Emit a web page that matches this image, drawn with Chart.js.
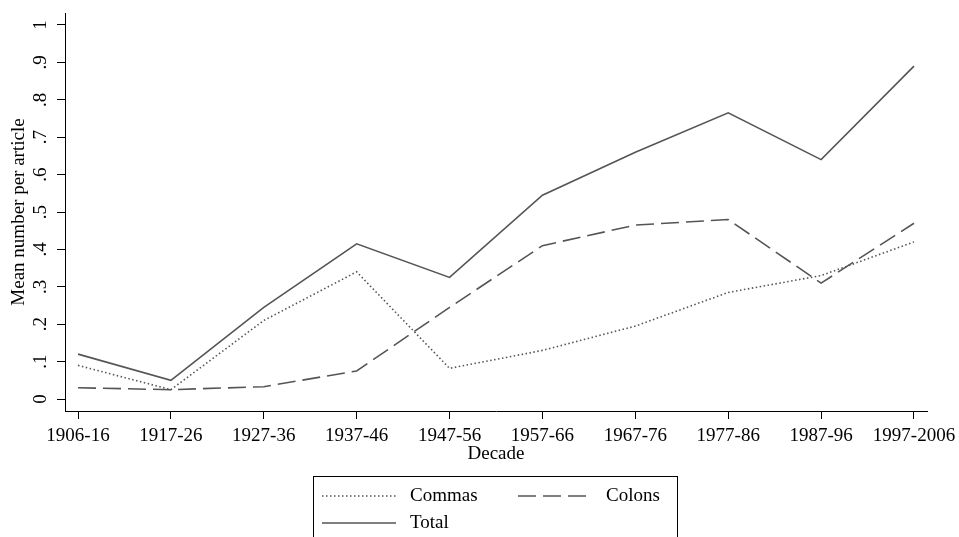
<!DOCTYPE html>
<html>
<head>
<meta charset="utf-8">
<script src="https://cdn.jsdelivr.net/npm/chart.js@4.4.1/dist/chart.umd.min.js"></script>
<style>
  html, body { margin: 0; padding: 0; background: #fff; }
  #wrap { width: 959px; height: 537px; }
</style>
</head>
<body>
<div id="wrap"><canvas id="chart" width="959" height="537"></canvas></div>
<script>
// data
const decades = ['1906-16', '1917-26', '1927-36', '1937-46', '1947-56', '1957-66', '1967-76', '1977-86', '1987-96', '1997-2006'];
const commas = [0.09, 0.025, 0.21, 0.34, 0.082, 0.13, 0.195, 0.285, 0.33, 0.42];
const colons = [0.03, 0.025, 0.033, 0.075, 0.245, 0.41, 0.465, 0.48, 0.31, 0.47];
const total = [0.12, 0.05, 0.245, 0.415, 0.325, 0.545, 0.66, 0.765, 0.64, 0.89];
const yTicks = [0, 0.1, 0.2, 0.3, 0.4, 0.5, 0.6, 0.7, 0.8, 0.9, 1];
const yTickLabels = ['0', '.1', '.2', '.3', '.4', '.5', '.6', '.7', '.8', '.9', '1'];

const FONT = 'Liberation Serif';
const LINE = '#555555';

function toPoints(arr) {
  return arr.map((v, i) => ({ x: i, y: v }));
}

// Stata-style legend box under the plot
const legendBox = {
  id: 'legendBox',
  afterDraw(chart) {
    const ctx = chart.ctx;
    const ds = chart.data.datasets;
    const slots = [
      { d: ds[0], x: 322, y: 496 },
      { d: ds[1], x: 518, y: 496 },
      { d: ds[2], x: 322, y: 523 }
    ];
    ctx.save();
    ctx.strokeStyle = '#000';
    ctx.lineWidth = 1;
    ctx.strokeRect(313.5, 476.5, 364, 100);
    slots.forEach(s => {
      ctx.beginPath();
      ctx.strokeStyle = s.d.borderColor;
      ctx.lineWidth = s.d.borderWidth;
      ctx.setLineDash(s.d.borderDash || []);
      ctx.moveTo(s.x, s.y);
      ctx.lineTo(s.x + 74, s.y);
      ctx.stroke();
      ctx.setLineDash([]);
      ctx.fillStyle = '#000';
      ctx.font = '19px "' + FONT + '"';
      ctx.textBaseline = 'middle';
      ctx.textAlign = 'left';
      ctx.fillText(s.d.label, s.x + 88, s.y);
    });
    ctx.restore();
  }
};

const ctx = document.getElementById('chart').getContext('2d');
new Chart(ctx, {
  type: 'line',
  data: {
    datasets: [
      { label: 'Commas', data: toPoints(commas), borderColor: LINE, borderWidth: 1.6, borderDash: [1.5, 2.5] },
      { label: 'Colons', data: toPoints(colons), borderColor: LINE, borderWidth: 1.6, borderDash: [18, 7] },
      { label: 'Total', data: toPoints(total), borderColor: LINE, borderWidth: 1.6 }
    ]
  },
  options: {
    responsive: false,
    animation: false,
    events: [],
    elements: { point: { radius: 0 }, line: { tension: 0 } },
    layout: { padding: { left: 0, right: 32, top: 13, bottom: 70 } },
    plugins: { legend: { display: false }, tooltip: { enabled: false } },
    scales: {
      x: {
        type: 'linear',
        min: -0.14,
        max: 9.14,
        afterFit(scale) {
          scale.height = 56;
          scale.paddingLeft = 0;
          scale.paddingRight = 0;
        },
        afterBuildTicks(scale) { scale.ticks = decades.map((d, i) => ({ value: i })); },
        grid: { drawOnChartArea: false, drawTicks: true, tickLength: 8, color: '#000' },
        border: { color: '#000', width: 1 },
        ticks: {
          color: '#000',
          font: { family: FONT, size: 19 },
          padding: 6,
          maxRotation: 0,
          autoSkip: false,
          callback: (v) => decades[v]
        },
        title: { display: true, text: 'Decade', color: '#000', font: { family: FONT, size: 19 }, padding: { top: 0, bottom: 2 } }
      },
      y: {
        min: -0.032,
        max: 1.032,
        afterFit(scale) {
          scale.width = 65;
          scale.paddingTop = 0;
          scale.paddingBottom = 0;
        },
        afterBuildTicks(scale) { scale.ticks = yTicks.map(v => ({ value: v })); },
        grid: { drawOnChartArea: false, drawTicks: true, tickLength: 8, color: '#000' },
        border: { color: '#000', width: 1 },
        ticks: {
          color: '#000',
          font: { family: FONT, size: 19 },
          minRotation: 90,
          maxRotation: 90,
          crossAlign: 'center',
          padding: 9,
          callback: (v) => yTickLabels[yTicks.indexOf(v)]
        },
        title: { display: true, text: 'Mean number per article', color: '#000', font: { family: FONT, size: 19 }, padding: { top: 8, bottom: 0 } }
      }
    }
  },
  plugins: [legendBox]
});
</script>
</body>
</html>
